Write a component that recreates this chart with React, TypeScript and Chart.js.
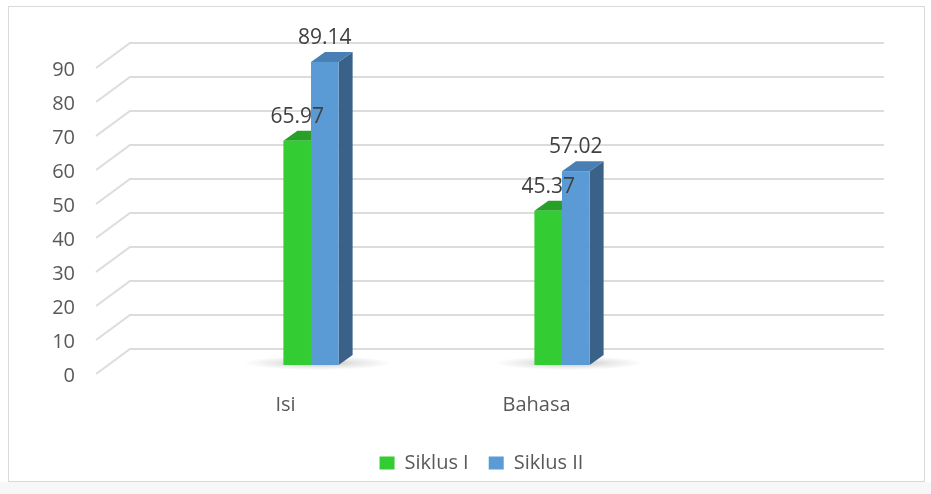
import { useEffect, useRef } from "react";
import { Chart, registerables } from "chart.js";

Chart.register(...registerables);

// ---- data ----
const categories = ["Isi", "Bahasa"];
const seriesNames = ["Siklus I", "Siklus II"];
const siklusI = [65.97, 45.37];
const siklusII = [89.14, 57.02];
const yMin = 0;
const yMax = 90;
const yStep = 10;

// ---- style ----
const FONT = "'Open Sans', sans-serif";
const TICK_COLOR = "#595959";
const LABEL_COLOR = "#404040";
const GRID_COLOR = "#dcdcdc";
const seriesColors = [
  { front: "#33cc33", top: "#28a028", side: "#1f861f" },
  { front: "#5b9bd5", top: "#4a7fb5", side: "#3a6187" },
];
const W = 931;
const H = 494;
const FLOOR_LEFT = 96; // front-left end of the grid lines
const BACK_RIGHT = 884; // right end of the back wall lines
const WALL = { x: 34, y: -25 }; // front -> back wall offset
const BAR_SHIFT = { x: 12, y: -9 }; // front -> bar plane offset
const DEPTH = { x: 14, y: -10 }; // bar depth

const threeDPlugin = {
  id: "threeD",
  beforeDraw(chart: any) {
    const ctx = chart.ctx;
    ctx.save();
    ctx.fillStyle = "#ffffff";
    ctx.fillRect(0, 0, chart.width, chart.height);
    ctx.fillStyle = "#f7f7f7";
    ctx.fillRect(0, 482, chart.width, chart.height - 482);
    ctx.strokeStyle = "#d9d9d9";
    ctx.lineWidth = 1;
    ctx.strokeRect(8.5, 6.5, 916, 475);
    ctx.restore();
  },
  beforeDatasetsDraw(chart: any) {
    const ctx = chart.ctx;
    const yScale = chart.scales.y;
    ctx.save();
    // grid: diagonal on the left side wall + back wall line
    ctx.strokeStyle = GRID_COLOR;
    ctx.lineWidth = 2;
    yScale.ticks.forEach((t: any) => {
      const fy = yScale.getPixelForValue(t.value);
      ctx.beginPath();
      ctx.moveTo(FLOOR_LEFT, fy);
      ctx.lineTo(FLOOR_LEFT + WALL.x, fy + WALL.y);
      ctx.lineTo(BACK_RIGHT, fy + WALL.y);
      ctx.stroke();
    });

    const metas = chart.data.datasets.map((_: any, di: number) => chart.getDatasetMeta(di));

    // soft floor shadows under each group
    categories.forEach((_, i) => {
      const first = metas[0].data[i].getProps(["x", "base", "width"], true);
      const last = metas[metas.length - 1].data[i].getProps(["x", "base", "width"], true);
      const left = first.x - first.width / 2 + BAR_SHIFT.x;
      const right = last.x + last.width / 2 + BAR_SHIFT.x + DEPTH.x;
      const cx = (left + right) / 2;
      const cy = first.base + BAR_SHIFT.y - 2;
      const rx = (right - left) / 2 + 40;
      const ry = 7;
      ctx.save();
      ctx.translate(cx, cy);
      ctx.scale(rx / ry, 1);
      const g = ctx.createRadialGradient(0, 0, 0, 0, 0, ry);
      g.addColorStop(0, "rgba(0,0,0,0.24)");
      g.addColorStop(0.6, "rgba(0,0,0,0.08)");
      g.addColorStop(1, "rgba(0,0,0,0)");
      ctx.fillStyle = g;
      ctx.beginPath();
      ctx.arc(0, 0, ry, 0, Math.PI * 2);
      ctx.fill();
      ctx.restore();
    });

    // 3D bars
    categories.forEach((_, i) => {
      metas.forEach((meta: any, di: number) => {
        const bar = meta.data[i];
        if (!bar) return;
        const { x, y, base, width } = bar.getProps(["x", "y", "base", "width"], true);
        const c = seriesColors[di];
        const l = x - width / 2 + BAR_SHIFT.x;
        const r = x + width / 2 + BAR_SHIFT.x;
        const t = y + BAR_SHIFT.y;
        const b = base + BAR_SHIFT.y;
        // side
        ctx.fillStyle = c.side;
        ctx.beginPath();
        ctx.moveTo(r, b);
        ctx.lineTo(r + DEPTH.x, b + DEPTH.y);
        ctx.lineTo(r + DEPTH.x, t + DEPTH.y);
        ctx.lineTo(r, t);
        ctx.closePath();
        ctx.fill();
        // top
        ctx.fillStyle = c.top;
        ctx.beginPath();
        ctx.moveTo(l, t);
        ctx.lineTo(l + DEPTH.x, t + DEPTH.y);
        ctx.lineTo(r + DEPTH.x, t + DEPTH.y);
        ctx.lineTo(r, t);
        ctx.closePath();
        ctx.fill();
        // front
        ctx.fillStyle = c.front;
        ctx.fillRect(l, t, r - l, b - t);
      });
    });

    // value labels
    ctx.fillStyle = LABEL_COLOR;
    ctx.font = `21px ${FONT}`;
    ctx.textAlign = "center";
    ctx.textBaseline = "middle";
    metas.forEach((meta: any, di: number) => {
      const values = chart.data.datasets[di].data;
      meta.data.forEach((bar: any, i: number) => {
        const { x, y } = bar.getProps(["x", "y"], true);
        ctx.fillText(Number(values[i]).toFixed(2), x + BAR_SHIFT.x, y + BAR_SHIFT.y - 24);
      });
    });
    ctx.restore();
    return false;
  },
};

export default function App() {
  const ref = useRef<HTMLCanvasElement | null>(null);
  useEffect(() => {
    if (!ref.current) return;
    const chart = new Chart(ref.current, {
      type: "bar",
      data: {
        labels: categories,
        datasets: [
          {
            label: seriesNames[0],
            data: siklusI,
            backgroundColor: seriesColors[0].front,
            borderWidth: 0,
            categoryPercentage: 0.22,
            barPercentage: 1,
          },
          {
            label: seriesNames[1],
            data: siklusII,
            backgroundColor: seriesColors[1].front,
            borderWidth: 0,
            categoryPercentage: 0.22,
            barPercentage: 1,
          },
        ],
      },
      options: {
        responsive: false,
        animation: false,
        events: [],
        layout: { padding: { left: 32, top: 68, right: 0, bottom: 11 } },
        scales: {
          x: {
            grid: { display: false, drawTicks: false },
            border: { display: false },
            ticks: {
              padding: 19,
              labelOffset: -13.5,
              maxRotation: 0,
              color: TICK_COLOR,
              font: { family: FONT, size: 20 },
            },
            afterFit: (s: any) => {
              s.height = 59;
            },
          },
          y: {
            min: yMin,
            max: yMax,
            grid: { display: false, drawTicks: false },
            border: { display: false },
            ticks: {
              stepSize: yStep,
              padding: 98.5,
              labelOffset: 2,
              color: TICK_COLOR,
              font: { family: FONT, size: 20 },
            },
            afterFit: (s: any) => {
              s.width = 141.5;
              s.paddingTop = 0;
              s.paddingBottom = 0;
            },
          },
          yRight: {
            position: "right",
            display: true,
            grid: { display: false, drawTicks: false },
            border: { display: false },
            ticks: { display: false },
            afterFit: (s: any) => {
              s.width = 255.5;
              s.paddingTop = 0;
              s.paddingBottom = 0;
            },
          },
        },
        plugins: {
          tooltip: { enabled: false },
          legend: {
            position: "bottom",
            labels: {
              boxWidth: 15,
              boxHeight: 13,
              padding: 20,
              color: TICK_COLOR,
              font: { family: FONT, size: 20 },
            },
          },
        },
      },
      plugins: [threeDPlugin],
    } as any);
    return () => chart.destroy();
  }, []);
  return (
    <div style={{ position: "fixed", left: 0, top: 0, width: W, height: H }}>
      <canvas ref={ref} width={W} height={H} style={{ display: "block" }} />
    </div>
  );
}
